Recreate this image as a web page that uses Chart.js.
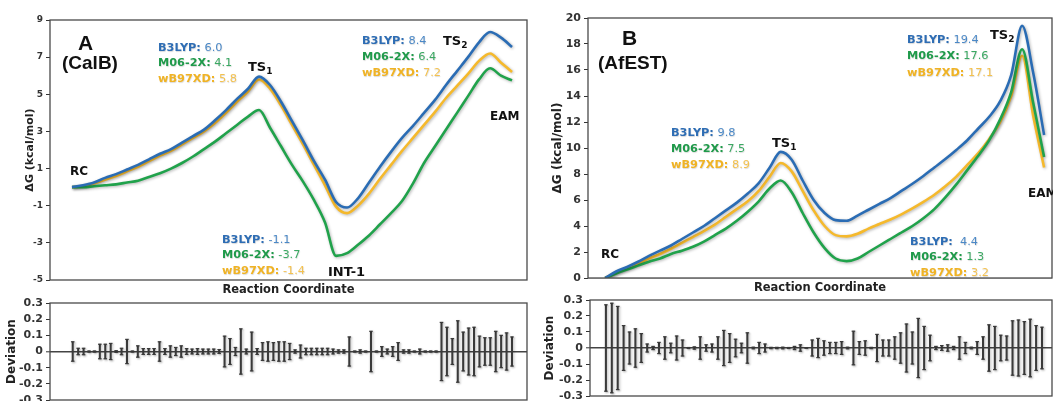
<!DOCTYPE html>
<html><head><meta charset="utf-8">
<script src="https://cdn.jsdelivr.net/npm/chart.js@4.4.1/dist/chart.umd.min.js"></script>
<style>
html,body{margin:0;padding:0;background:#fff;width:1053px;height:401px;overflow:hidden;}
body{position:relative;font-family:'DejaVu Sans',sans-serif;}
canvas{position:absolute;}
.t{position:absolute;white-space:nowrap;line-height:1;color:#111;}
.m{font-size:11.3px;font-family:'DejaVu Sans',sans-serif;text-shadow:0.5px 0.5px 1px rgba(0,0,0,0.15);}
.m b{font-weight:bold}
.m span{font-weight:normal}
.cb b{color:#2e6db4}.cb span{color:#4b88c6}
.cg b{color:#1f9a4a}.cg span{color:#3aa862}
.cy b{color:#f0b324}.cy span{color:#f3c14f}
.big{font-family:'Liberation Sans',Arial,sans-serif;font-weight:bold;color:#111;}
.lb{font-family:'DejaVu Sans',sans-serif;font-weight:bold;color:#111;}
.lb sub{font-size:9px;vertical-align:-3px;line-height:0;}
</style></head>
<body>
<canvas id="cA" width="530" height="300" style="left:0;top:0"></canvas>
<canvas id="cB" width="523" height="298" style="left:530px;top:0"></canvas>
<canvas id="dA" width="530" height="106" style="left:0;top:295px"></canvas>
<canvas id="dB" width="523" height="109" style="left:530px;top:292px"></canvas>

<!-- Panel A annotations -->
<div class="t big" style="left:78px;top:32px;font-size:21px">A</div>
<div class="t big" style="left:62px;top:53px;font-size:19px">(CalB)</div>
<div class="t m cb" style="left:158px;top:41.5px"><b>B3LYP:</b> <span>6.0</span></div>
<div class="t m cg" style="left:158px;top:56.5px"><b>M06-2X:</b> <span>4.1</span></div>
<div class="t m cy" style="left:158px;top:72.5px"><b>wB97XD:</b> <span>5.8</span></div>
<div class="t lb" style="left:248px;top:59.5px;font-size:13px">TS<sub>1</sub></div>
<div class="t lb" style="left:70px;top:165px;font-size:12px">RC</div>
<div class="t m cb" style="left:362px;top:34.5px"><b>B3LYP:</b> <span>8.4</span></div>
<div class="t m cg" style="left:362px;top:50.5px"><b>M06-2X:</b> <span>6.4</span></div>
<div class="t m cy" style="left:362px;top:66.5px"><b>wB97XD:</b> <span>7.2</span></div>
<div class="t lb" style="left:443px;top:33.5px;font-size:13px">TS<sub>2</sub></div>
<div class="t lb" style="left:490px;top:110px;font-size:12px">EAM</div>
<div class="t m cb" style="left:222px;top:233.5px"><b>B3LYP:</b> <span>-1.1</span></div>
<div class="t m cg" style="left:222px;top:248.5px"><b>M06-2X:</b> <span>-3.7</span></div>
<div class="t m cy" style="left:222px;top:264.5px"><b>wB97XD:</b> <span>-1.4</span></div>
<div class="t lb" style="left:328px;top:264.5px;font-size:13px">INT-1</div>

<!-- Panel B annotations -->
<div class="t big" style="left:622px;top:26.5px;font-size:21px">B</div>
<div class="t big" style="left:598px;top:52.5px;font-size:19px">(AfEST)</div>
<div class="t m cb" style="left:671px;top:126.5px"><b>B3LYP:</b> <span>9.8</span></div>
<div class="t m cg" style="left:671px;top:142.5px"><b>M06-2X:</b> <span>7.5</span></div>
<div class="t m cy" style="left:671px;top:158.5px"><b>wB97XD:</b> <span>8.9</span></div>
<div class="t lb" style="left:772px;top:135.5px;font-size:13px">TS<sub>1</sub></div>
<div class="t m cb" style="left:907px;top:33.5px"><b>B3LYP:</b> <span>19.4</span></div>
<div class="t m cg" style="left:907px;top:49.5px"><b>M06-2X:</b> <span>17.6</span></div>
<div class="t m cy" style="left:907px;top:66.5px"><b>wB97XD:</b> <span>17.1</span></div>
<div class="t lb" style="left:990px;top:27.5px;font-size:13px">TS<sub>2</sub></div>
<div class="t lb" style="left:1028px;top:187px;font-size:12px">EAM</div>
<div class="t lb" style="left:601px;top:248px;font-size:12px">RC</div>
<div class="t m cb" style="left:910px;top:235.5px"><b>B3LYP:</b> <span>&nbsp;4.4</span></div>
<div class="t m cg" style="left:910px;top:250.5px"><b>M06-2X:</b> <span>1.3</span></div>
<div class="t m cy" style="left:910px;top:266.5px"><b>wB97XD:</b> <span>3.2</span></div>

<script>
// ---------- DATA ----------
const ticksTopA = [9, 7, 5, 3, 1, -1, -3, -5];
const ticksTopB = [20, 18, 16, 14, 12, 10, 8, 6, 4, 2, 0];
const ticksDev  = [0.3, 0.2, 0.1, 0, -0.1, -0.2, -0.3];

// reaction coordinate (arbitrary units)
const rc = [0,2.5,5,7.5,10,12.5,15,17.5,20,22.5,25,27.5,30,32.5,35,37.5,40,42.5,45,47.5,50,
            52.5,55,57.5,60,62.5,65,67.5,70,72.5,75,77.5,80,82.5,85,87.5,90,92.5,95,97.5,100];

// Panel A (CalB)
const blueA   = [0.0,0.1,0.25,0.5,0.7,0.95,1.2,1.5,1.8,2.05,2.4,2.75,3.1,3.6,4.15,4.75,5.3,5.95,5.5,4.6,3.55,
                 2.5,1.4,0.4,-0.8,-1.1,-0.6,0.25,1.1,1.9,2.65,3.3,4.0,4.7,5.5,6.25,7.0,7.8,8.35,8.05,7.55];
const greenA  = [0.0,0.0,0.05,0.1,0.15,0.25,0.35,0.55,0.75,1.0,1.3,1.65,2.05,2.45,2.9,3.35,3.8,4.15,3.2,2.2,1.2,
                 0.3,-0.7,-1.9,-3.7,-3.55,-3.1,-2.6,-2.0,-1.4,-0.75,0.2,1.3,2.2,3.1,4.0,4.9,5.8,6.4,6.0,5.75];
const yellowA = [0.0,0.05,0.2,0.4,0.6,0.85,1.1,1.4,1.7,1.95,2.3,2.65,3.0,3.45,4.0,4.6,5.15,5.8,5.3,4.4,3.35,
                 2.3,1.2,0.1,-1.05,-1.4,-1.0,-0.35,0.45,1.2,1.95,2.65,3.35,4.05,4.8,5.45,6.1,6.8,7.2,6.7,6.2];

// Panel B (AfEST)
const blueB   = [0,0.5,0.85,1.25,1.7,2.1,2.5,3.0,3.5,4.0,4.6,5.2,5.8,6.5,7.3,8.5,9.7,9.1,7.5,6.0,5.0,
                 4.45,4.4,4.8,5.25,5.7,6.15,6.7,7.25,7.85,8.5,9.15,9.85,10.6,11.5,12.4,13.6,15.6,19.4,15.8,11.0];
const greenB  = [0,0.35,0.65,0.95,1.25,1.5,1.85,2.1,2.4,2.8,3.3,3.8,4.4,5.1,5.9,6.9,7.5,6.6,5.0,3.5,2.3,
                 1.5,1.3,1.5,2.0,2.5,3.0,3.5,4.0,4.6,5.3,6.2,7.2,8.3,9.4,10.6,12.2,14.3,17.6,13.5,9.3];
const yellowB = [0,0.4,0.75,1.1,1.5,1.85,2.25,2.7,3.15,3.6,4.1,4.7,5.3,5.9,6.7,7.8,8.85,8.2,6.7,5.2,4.0,
                 3.3,3.2,3.4,3.8,4.15,4.5,4.9,5.35,5.85,6.4,7.05,7.8,8.7,9.6,10.7,12.0,14.0,17.1,12.5,8.5];

// Deviation (half-width of error bar) per reaction-coordinate window
const devA = [0.06,0.02,0.02,0.003,0.003,0.045,0.045,0.05,0.005,0.02,0.075,0.003,0.035,0.018,0.018,0.018,0.06,
              0.018,0.035,0.025,0.035,0.018,0.015,0.018,0.015,0.015,0.015,0.012,0.095,0.08,0.025,0.14,0.015,
              0.12,0.018,0.055,0.06,0.055,0.06,0.06,0.05,0.01,0.04,0.02,0.02,0.02,0.02,0.02,0.015,0.01,0.01,
              0.09,0.003,0.01,0.003,0.125,0.003,0.03,0.015,0.03,0.055,0.01,0.01,0.003,0.015,0.003,0.003,0.003,
              0.18,0.15,0.08,0.19,0.12,0.145,0.15,0.095,0.085,0.085,0.125,0.10,0.115,0.09];
const devB = [0.27,0.28,0.26,0.14,0.10,0.12,0.09,0.025,0.01,0.035,0.07,0.03,0.075,0.05,0.003,0.007,0.07,0.02,
              0.025,0.07,0.11,0.09,0.055,0.03,0.095,0.005,0.035,0.025,0.004,0.004,0.005,0.003,0.01,0.02,0,0.05,
              0.06,0.045,0.035,0.035,0.04,0.005,0.105,0.04,0.045,0.004,0.085,0.05,0.05,0.07,0.095,0.15,0.10,
              0.185,0.135,0.08,0.01,0.015,0.02,0.01,0.07,0.035,0.005,0.04,0.07,0.145,0.135,0.08,0.075,0.17,
              0.175,0.165,0.18,0.14,0.13];

// ---------- STYLE ----------
const COL = { blue:'#2a6cb4', green:'#20a24b', yellow:'#f5b92c' };
Chart.defaults.font.family = "'DejaVu Sans', sans-serif";
Chart.defaults.animation = false;

const framePlugin = { id:'frame', afterDraw(c){ const a=c.chartArea, ctx=c.ctx; ctx.save();
  ctx.strokeStyle='#4a4a4a'; ctx.lineWidth=1.3; ctx.strokeRect(a.left,a.top,a.right-a.left,a.bottom-a.top); ctx.restore(); } };
const shadowPlugin = { id:'shadow',
  beforeDatasetsDraw(c){ const ctx=c.ctx; ctx.save(); ctx.shadowColor='rgba(0,0,0,0.3)'; ctx.shadowBlur=3; ctx.shadowOffsetX=1; ctx.shadowOffsetY=1; },
  afterDatasetsDraw(c){ c.ctx.restore(); } };
const capsPlugin = { id:'caps', afterDatasetsDraw(c){ const ctx=c.ctx; ctx.save();
  ctx.strokeStyle='#3a3a3a'; ctx.lineWidth=1.2; ctx.shadowColor='rgba(0,0,0,0.25)'; ctx.shadowBlur=2; ctx.shadowOffsetX=1; ctx.shadowOffsetY=1;
  c.getDatasetMeta(0).data.forEach(el=>{ const p=el.getProps(['x','y','base'],true);
    [p.y,p.base].forEach(yy=>{ ctx.beginPath(); ctx.moveTo(p.x-1.8,yy); ctx.lineTo(p.x+1.8,yy); ctx.stroke(); }); });
  ctx.restore(); } };

function pts(arr){ return rc.map((x,i)=>({x, y: arr[i]})); }
function lineDs(label, arr, color, order){
  return { label, data: pts(arr), borderColor: color, backgroundColor: color, borderWidth: 2.6,
           pointRadius: 0, tension: 0.35, cubicInterpolationMode:'monotone', order };
}
function yAxis(ticks, min, max, width, title, tickSize, titleSize, zeroColor, zeroWidth, fmt){
  return { type:'linear', min, max,
    afterBuildTicks(s){ s.ticks = ticks.map(v=>({value:v})); },
    afterFit(s){ s.width = width; s.paddingTop = 0; s.paddingBottom = 0; },
    ticks:{ autoSkip:false, font:{size:tickSize, weight:'bold'}, color:'#333', padding:3, callback: fmt || (v=>String(v)) },
    grid:{ drawTicks:true, tickLength:4, tickColor:'#333', tickWidth:1,
      color: ctx => (ctx.tick && ctx.tick.value===0) ? zeroColor : 'rgba(0,0,0,0)',
      lineWidth: ctx => (ctx.tick && ctx.tick.value===0) ? zeroWidth : 1 },
    border:{ display:false },
    title:{ display:true, text:title, font:{size:titleSize, weight:'bold'}, color:'#222', padding:{top:4,bottom:4} } };
}
function xTop(min, max){
  return { type:'linear', min, max,
    afterFit(s){ s.height = 20; s.paddingLeft = 0; s.paddingRight = 0; },
    ticks:{ display:false }, grid:{ display:false }, border:{ display:false },
    title:{ display:true, text:'Reaction Coordinate', font:{size:11.5, weight:'bold'}, color:'#222', padding:{top:0,bottom:3} } };
}

function topChart(id, b, g, y, xmin, xmax, ticks, ymin, ymax, yw, tickSize, titleSize, pad){
  new Chart(document.getElementById(id), {
    type:'line',
    data:{ datasets:[ lineDs('B3LYP', b, COL.blue, 1), lineDs('M06-2X', g, COL.green, 2), lineDs('wB97XD', y, COL.yellow, 3) ] },
    options:{ responsive:false, animation:false, layout:{ padding:pad },
      plugins:{ legend:{display:false}, tooltip:{enabled:false} },
      scales:{ x: xTop(xmin, xmax), y: yAxis(ticks, ymin, ymax, yw, 'ΔG (kcal/mol)', tickSize, titleSize, '#cfcfcf', 1) } },
    plugins:[shadowPlugin, framePlugin]
  });
}

function devChart(id, dev, xmin, xmax, yw, pad){
  new Chart(document.getElementById(id), {
    type:'bar',
    data:{ datasets:[{ label:'Deviation', data: dev.map((d,i)=>({x:i, y:[-d, d]})),
      backgroundColor:'#3a3a3a', borderWidth:0, barThickness:1.4 }] },
    options:{ responsive:false, animation:false, layout:{ padding:pad },
      plugins:{ legend:{display:false}, tooltip:{enabled:false} },
      scales:{
        x:{ type:'linear', min:xmin, max:xmax, offset:false, display:false, grid:{offset:false} },
        y: yAxis(ticksDev, -0.3, 0.3, yw, 'Deviation', 11, 12, '#444', 1.6, v=>String(Math.round(v*10)/10)) } },
    plugins:[shadowPlugin, capsPlugin, framePlugin]
  });
}

topChart('cA', blueA, greenA, yellowA, -5, 103.4, ticksTopA, -5, 9, 30, 9, 11, {left:20, top:20, right:3, bottom:0});
topChart('cB', blueB, greenB, yellowB, -3.9, 101.8, ticksTopB, 0, 20, 41, 11, 12, {left:17, top:18, right:1, bottom:0});
devChart('dA', devA, -4.19, 83.77, 49, {left:1, top:8, right:3, bottom:1});
devChart('dB', devB, -2.7, 75.7, 51, {left:9, top:8, right:1, bottom:5});
</script>
</body></html>
